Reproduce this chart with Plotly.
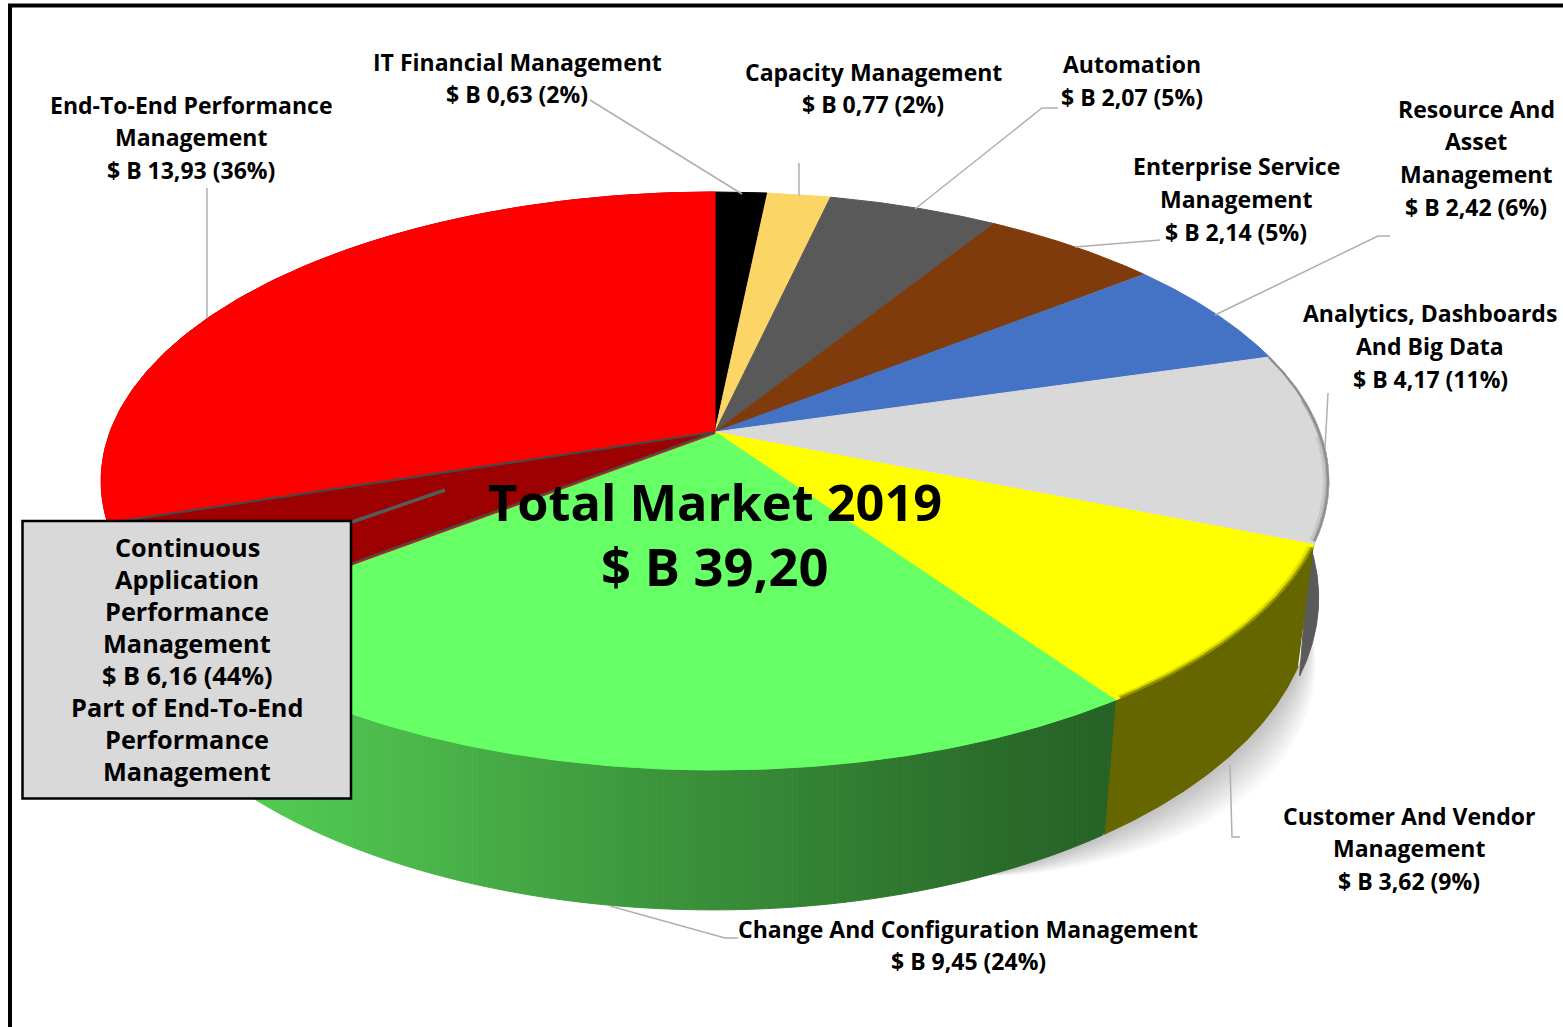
import numpy as np
import plotly.graph_objects as go

# ---- data ----
categories = ["IT Financial Management", "Capacity Management", "Automation",
              "Enterprise Service Management", "Resource And Asset Management",
              "Analytics, Dashboards And Big Data", "Customer And Vendor Management",
              "Change And Configuration Management", "End-To-End Performance Management"]
values = [0.63, 0.77, 2.07, 2.14, 2.42, 4.17, 3.62, 9.45, 13.93]
total_value = 39.20
part_value = 6.16          # printed value of the highlighted part
part_share = 0.44          # printed share of End-To-End
part_drawn_value = 2.18    # arc the dark wedge actually occupies in the picture

slice_colors = ["#000000", "#FBD666", "#595959", "#7F3B0B", "#4472C4",
                "#D9D9D9", "#FFFF00", "#66FF66", "#FF0000"]
wall_colors = [None, None, None, None, None, "#5A5A5A", "#666600", "gradient", "#990000"]

# ---- styling / layout ----
W, H = 1563, 1027
FONT = "Open Sans"
TXT = 23
K = 0.1696
TOP = dict(x0=715, y0=432, R=605, S=280.7)
BOT = dict(x0=713, y0=545, R=591, S=303)
BOT_GREY = dict(x0=719, y0=545, R=591, S=303)


def project(theta, g):
    sx, sy = np.sin(theta), np.cos(theta)
    d = 1 + K * sy
    return g["x0"] + g["R"] * sx / d, g["y0"] - g["S"] * sy / d


def poly(fig, x, y, color, lw=1.0, line=None):
    fig.add_trace(go.Scatter(x=list(x), y=list(y), mode="lines", fill="toself",
                             fillcolor=color, line=dict(color=line or color, width=lw),
                             hoverinfo="skip", showlegend=False))


def curve(fig, x, y, color, lw):
    fig.add_trace(go.Scatter(x=list(x), y=list(y), mode="lines",
                             line=dict(color=color, width=lw),
                             hoverinfo="skip", showlegend=False))


def wedge(fig, a0, a1, color, lw=1.0, line=None):
    t = np.linspace(a0, a1, 160)
    x, y = project(t, TOP)
    poly(fig, np.r_[TOP["x0"], x, TOP["x0"]], np.r_[TOP["y0"], y, TOP["y0"]], color, lw, line)


def wall(fig, a0, a1, color, bottom=BOT):
    t = np.linspace(a0, a1, 120)
    xa, ya = project(t, TOP)
    xb, yb = project(t[::-1], bottom)
    poly(fig, np.r_[xa, xb], np.r_[ya, yb], color)


def green_at(x):
    stops = [(250, (82, 205, 82)), (400, (76, 185, 76)), (650, (60, 150, 60)), (1000, (42, 108, 42)), (1115, (38, 98, 38))]
    px = [s[0] for s in stops]
    return "rgb(%d,%d,%d)" % tuple(np.interp(x, px, [s[1][i] for s in stops]) for i in range(3))


def green_wall(fig, a0, a1):
    # the wall's light falls in vertical bands, so slice it by x
    t = np.linspace(a0, a1, 400)
    xt, yt = project(t, TOP)
    xb, yb = project(t, BOT)
    up_x, up_y = xt[::-1], yt[::-1]
    lo_x = np.r_[xb[::-1], xt[0]]
    lo_y = np.r_[yb[::-1], yt[0]]
    edges_x = np.arange(xb[-1], xt[0] + 5, 5.0)
    for a, b in zip(edges_x[:-1], edges_x[1:]):
        b = min(b, xt[0])
        xs = np.linspace(a, b, 4)
        u = np.interp(xs, up_x, up_y)
        v = np.interp(xs, lo_x, lo_y)
        poly(fig, np.r_[xs, xs[::-1]], np.r_[u, v[::-1]], green_at((a + b) / 2))


edges = np.r_[0, np.cumsum(values)] / sum(values) * 2 * np.pi
fig = go.Figure()

# soft shadow along the lower right of the drum
sh_a, sh_b = edges[6] - 0.12, edges[7] + 0.2
t = np.linspace(sh_a, sh_b, 100)
bx, by = project(t, BOT)
for reach in np.linspace(44, 4, 12):
    w = np.sin(np.pi * (t - sh_a) / (sh_b - sh_a)) ** 0.7 * reach
    poly(fig, np.r_[bx, (bx + 0.72 * w)[::-1]], np.r_[by, (by + 0.62 * w)[::-1]],
         "rgba(0,0,0,0.021)", lw=0)

# side walls
for i, c in enumerate(wall_colors):
    if c is None:
        continue
    if c == "gradient":
        green_wall(fig, edges[i], edges[i + 1])
    elif i == 5:
        # the grey wall runs on a little behind the olive one
        wall(fig, edges[i], edges[i + 1] + 0.03, c, BOT_GREY)
    else:
        wall(fig, edges[i], edges[i + 1], c)

# top surface
for i, c in enumerate(slice_colors):
    wedge(fig, edges[i], edges[i + 1], c)

# highlighted wedge inside End-To-End
part_end = edges[8] + part_drawn_value / sum(values) * 2 * np.pi
ex, ey = project(np.array([edges[8]]), TOP)
curve(fig, [TOP["x0"], ex[0]], [TOP["y0"] + 1.5, ey[0] + 1.5], "#FF0000", 1.2)
wedge(fig, edges[8], part_end, "#9C0000", lw=2.2, line="#474747")

# soft bevel on the rim of the grey and yellow slices, growing towards the lower end
span = edges[6] - edges[5]
for inset, col, start in [(0.992, "#C8C8C8", 0.45), (0.996, "#B0B0B0", 0.25), (0.9985, "#8E8E8E", 0.0)]:
    t = np.linspace(edges[5] + start * span, edges[6] - 0.01, 60)
    xr, yr = project(t, TOP)
    curve(fig, 715 + (xr - 715) * inset, 432 + (yr - 432) * inset, col, 2.2)
t = np.linspace(edges[6] + 0.01, edges[7] - 0.01, 80)
for inset, col in [(0.993, "#E0E000"), (0.997, "#B8B800"), (0.9995, "#8C8C00")]:
    xr, yr = project(t, TOP)
    curve(fig, 715 + (xr - 715) * inset, 432 + (yr - 432) * inset, col, 1.8)


# label text, one entry per printed line


def money(v):
    return f"{v:.2f}".replace(".", ",")


def value_line(i):
    return f"$ B {money(values[i])} ({round(values[i] / sum(values) * 100)}%)"


label_lines = [
    (["IT Financial Management", value_line(0)], 517, 61.5),
    (["Capacity Management", value_line(1)], 873, 71.5),
    (["Automation", value_line(2)], 1132, 64),
    (["Enterprise Service", "Management", value_line(3)], 1236, 166),
    (["Resource And", "Asset", "Management", value_line(4)], 1476, 108.5),
    (["Analytics, Dashboards", "And Big Data", value_line(5)], 1430, 313),
    (["Customer And Vendor", "Management", value_line(6)], 1409, 815.5),
    (["Change And Configuration Management", value_line(7)], 968, 928.5),
    (["End-To-End Performance", "Management", value_line(8)], 191, 104.5),
]
box_lines = ["Continuous", "Application", "Performance", "Management",
             f"$ B {money(part_value)} ({round(part_share * 100)}%)",
             "Part of End-To-End", "Performance", "Management"]
center_lines = [("Total Market 2019", 50.5), (f"$ B {money(total_value)}", 52.5)]

leaders = [
    ([207, 207], [188, 318]),
    ([590, 742], [100, 194]),
    ([799, 799], [163, 196]),
    ([915, 1042, 1058], [209, 108, 108]),
    ([1075, 1160], [247, 240]),
    ([1215, 1378, 1390], [315, 236, 236]),
    ([1325, 1328], [448, 393]),
    ([1230, 1232, 1240], [765, 837, 837]),
    ([610, 725, 738], [906, 938, 938]),
]
for lx, ly in leaders:
    curve(fig, lx, ly, "#AFAFAF", 1.5)
curve(fig, [352, 445], [522, 490], "#595959", 3.5)

annotations = []


def text(s, x, y, size):
    annotations.append(dict(x=x, y=y, text=f"<b>{s}</b>", showarrow=False, xanchor="center",
                            yanchor="middle", xref="x", yref="y",
                            font=dict(family=FONT, size=size, color="#000000")))


for lines, cx, y0 in label_lines:
    for n, s in enumerate(lines):
        text(s, cx, y0 + n * 32.8, TXT)
for n, s in enumerate(box_lines):
    text(s, 187, 547 + n * 32, 25.3)
for n, (s, size) in enumerate(center_lines):
    text(s, 714.5, 501 + n * 64, size)

shapes = [
    dict(type="rect", x0=22.5, x1=351, y0=521, y1=798.5, xref="x", yref="y",
         fillcolor="#D9D9D9", line=dict(color="#000000", width=2.5), layer="above"),
    dict(type="line", x0=8, x1=W, y0=5.5, y1=5.5, xref="x", yref="y",
         line=dict(color="#000000", width=4), layer="above"),
    dict(type="line", x0=10, x1=10, y0=4, y1=H, xref="x", yref="y",
         line=dict(color="#000000", width=4), layer="above"),
]

fig.update_layout(
    width=W, height=H, margin=dict(l=0, r=0, t=0, b=0),
    paper_bgcolor="#FFFFFF", plot_bgcolor="#FFFFFF", showlegend=False,
    xaxis=dict(range=[0, W], visible=False, fixedrange=True),
    yaxis=dict(range=[H, 0], visible=False, fixedrange=True),
    annotations=annotations, shapes=shapes,
)
fig.write_html("out.html", config={"displayModeBar": False},
               post_script="document.body.style.margin='0';document.body.style.overflow='hidden';")
